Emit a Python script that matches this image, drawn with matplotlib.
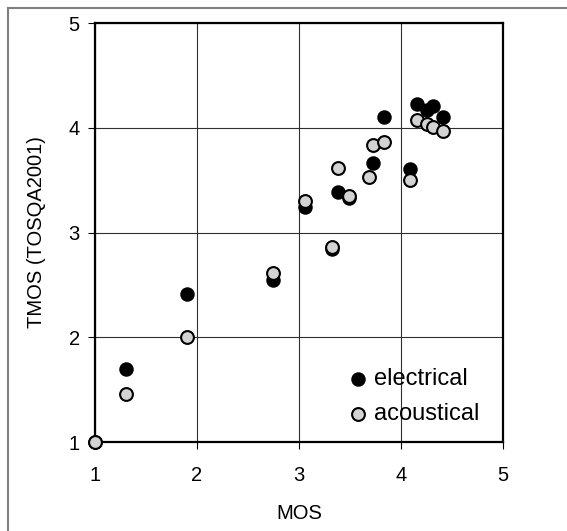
import matplotlib.pyplot as plt
from matplotlib.lines import Line2D

plt.rcParams['font.family'] = ['Liberation Sans', 'DejaVu Sans']

# MOS vs TMOS, electrical and acoustical conditions
mos_el = [1.0, 1.30, 1.90, 2.74, 3.06, 3.32, 3.38, 3.49, 3.73, 3.83, 4.09, 4.16, 4.25, 4.31, 4.41]
tmos_el = [1.0, 1.70, 2.41, 2.55, 3.24, 2.84, 3.39, 3.33, 3.66, 4.10, 3.61, 4.23, 4.17, 4.21, 4.10]

mos_ac = [1.0, 1.30, 1.90, 2.74, 3.06, 3.32, 3.38, 3.49, 3.69, 3.73, 3.83, 4.09, 4.16, 4.25, 4.31, 4.41]
tmos_ac = [1.0, 1.46, 2.00, 2.61, 3.30, 2.86, 3.62, 3.35, 3.53, 3.84, 3.86, 3.50, 4.07, 4.04, 4.01, 3.97]

ticks = [1, 2, 3, 4, 5]

fig = plt.figure(figsize=(5.67, 5.31), dpi=100)
ax = fig.add_axes([0.1676, 0.1676, 0.7196, 0.789])

ax.scatter(mos_el, tmos_el, s=85, c='black', edgecolors='black', linewidths=1.2,
           label='electrical', zorder=3, clip_on=False)
ax.scatter(mos_ac, tmos_ac, s=85, c='#d3d3d3', edgecolors='black', linewidths=1.5,
           label='acoustical', zorder=4, clip_on=False)

ax.set_xlim(1, 5)
ax.set_ylim(1, 5)
ax.set_xticks(ticks)
ax.set_yticks(ticks)
ax.grid(True, color='#303030', linewidth=0.8)
ax.set_axisbelow(True)
for sp in ax.spines.values():
    sp.set_linewidth(1.6)
    sp.set_color('black')
ax.tick_params(axis='x', direction='out', length=5, width=0.8, labelsize=14.5, pad=12)
ax.tick_params(axis='y', direction='out', length=5, width=0.8, labelsize=14.5, pad=6)

ax.set_xlabel('MOS', fontsize=14.5, labelpad=14)
ax.set_ylabel('TMOS (TOSQA2001)', fontsize=14.5, labelpad=16)

ax.legend(loc='lower left', bbox_to_anchor=(0.545, 0.0), frameon=False, fontsize=17,
          handletextpad=-0.3, labelspacing=0.55, borderpad=0.2, scatterpoints=1)

# outer frame (only left and top visible in the crop)
fig.add_artist(Line2D([8 / 567, 8 / 567], [0, 1 - 8 / 531], color='#808080', linewidth=1.5))
fig.add_artist(Line2D([8 / 567, 1], [1 - 8 / 531, 1 - 8 / 531], color='#808080', linewidth=1.5))

fig.savefig('out.png', dpi=100)
